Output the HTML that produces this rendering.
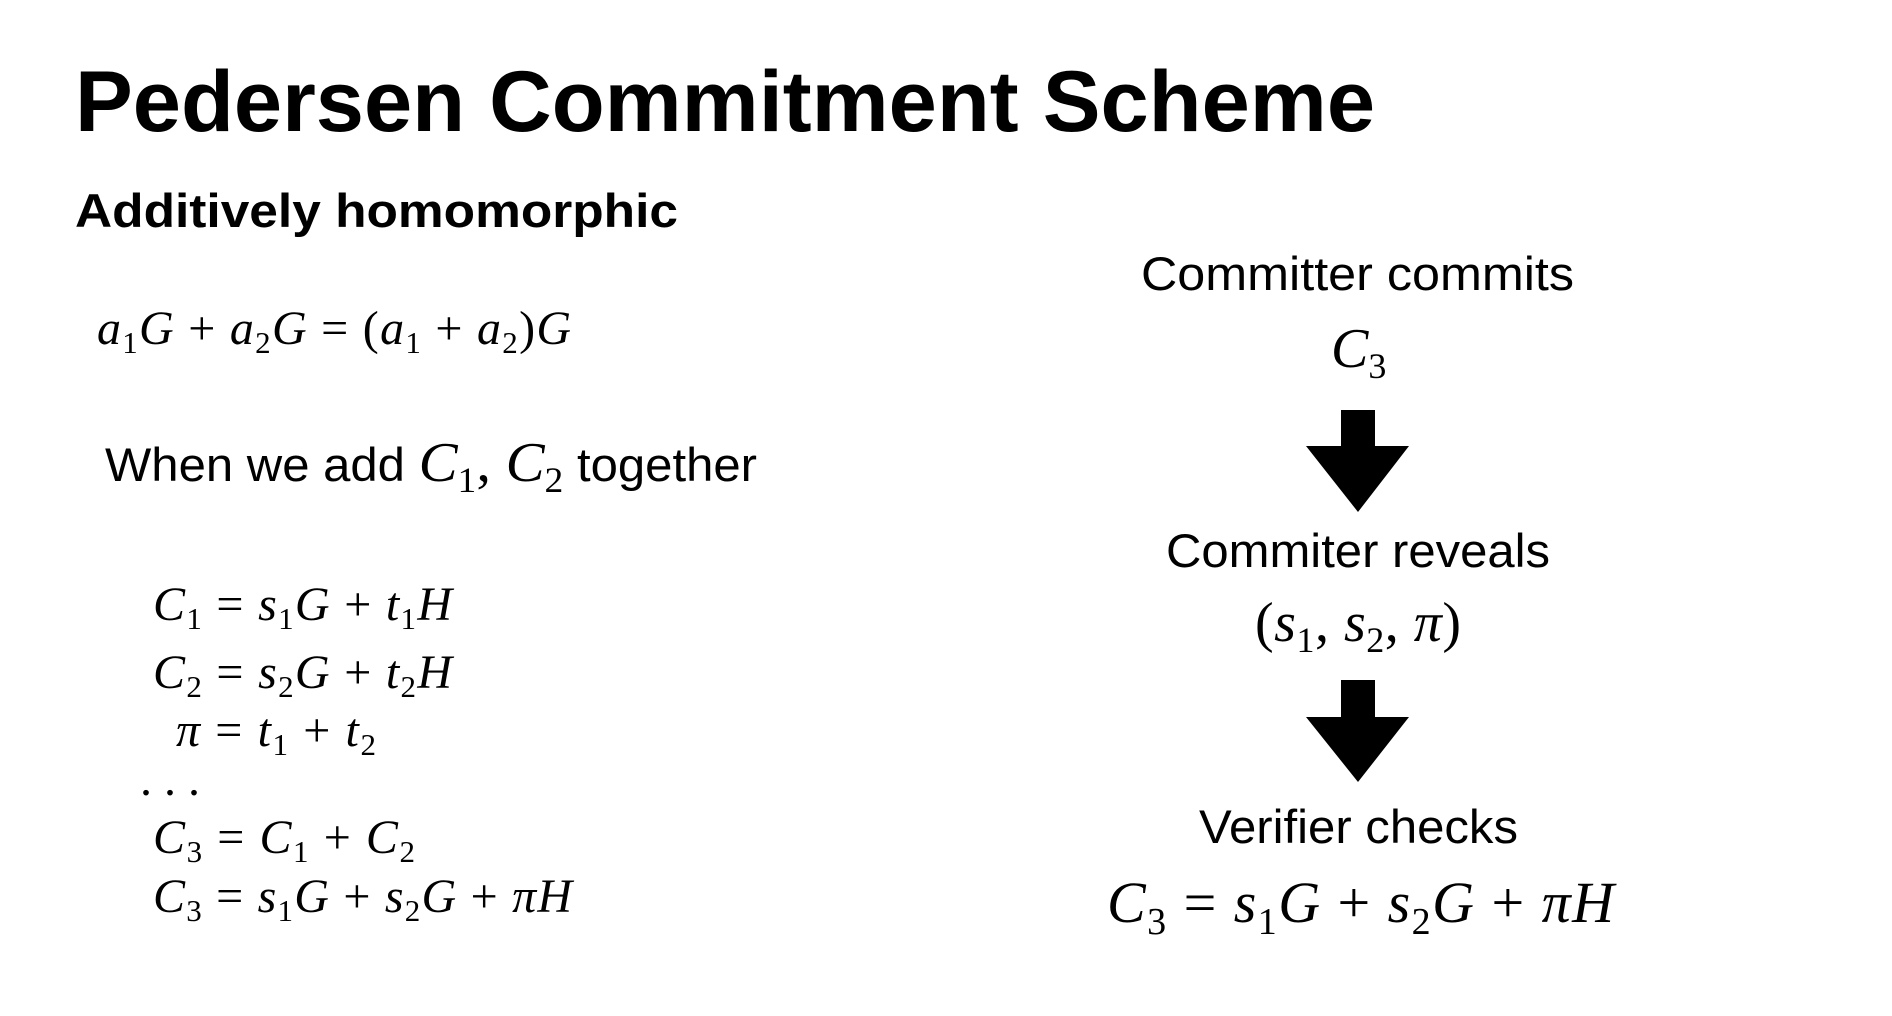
<!DOCTYPE html>
<html><head><meta charset="utf-8"><style>
html,body{margin:0;padding:0;background:#fff;}
svg{display:block}
.s{font-family:"Liberation Sans",sans-serif;fill:#000}
.m{font-family:"Liberation Serif",serif;font-style:italic;fill:#000}
.u{font-style:normal}
</style></head><body>
<svg width="1892" height="1016" viewBox="0 0 1892 1016" xmlns="http://www.w3.org/2000/svg">
<text x="75" y="131" class="s" font-size="86" font-weight="bold" textLength="1300" lengthAdjust="spacingAndGlyphs">Pedersen Commitment Scheme</text>
<text x="75" y="227" class="s" font-size="47" font-weight="bold" textLength="603" lengthAdjust="spacingAndGlyphs">Additively homomorphic</text>

<text x="97" y="344" class="m" font-size="48" textLength="474" lengthAdjust="spacing">a<tspan class="u" font-size="31" dy="9">1</tspan><tspan dy="-9">G</tspan><tspan class="u"> + </tspan>a<tspan class="u" font-size="31" dy="9">2</tspan><tspan dy="-9">G</tspan><tspan class="u"> = (</tspan>a<tspan class="u" font-size="31" dy="9">1</tspan><tspan class="u" dy="-9"> + </tspan>a<tspan class="u" font-size="31" dy="9">2</tspan><tspan class="u" dy="-9">)</tspan>G</text>

<text x="105" y="481" class="s" font-size="47" textLength="652" lengthAdjust="spacingAndGlyphs">When we add <tspan class="m" font-size="56">C</tspan><tspan font-family="Liberation Serif" font-size="36" dy="11">1</tspan><tspan font-family="Liberation Serif" font-size="56" dy="-11">, </tspan><tspan class="m" font-size="56">C</tspan><tspan font-family="Liberation Serif" font-size="36" dy="11">2</tspan><tspan dy="-11"> together</tspan></text>

<g class="m" font-size="48">
<text x="153" y="620" textLength="299" lengthAdjust="spacing">C<tspan class="u" font-size="31" dy="9">1</tspan><tspan class="u" dy="-9"> = </tspan>s<tspan class="u" font-size="31" dy="9">1</tspan><tspan dy="-9">G</tspan><tspan class="u"> + </tspan>t<tspan class="u" font-size="31" dy="9">1</tspan><tspan dy="-9">H</tspan></text>
<text x="153" y="688" textLength="299" lengthAdjust="spacing">C<tspan class="u" font-size="31" dy="9">2</tspan><tspan class="u" dy="-9"> = </tspan>s<tspan class="u" font-size="31" dy="9">2</tspan><tspan dy="-9">G</tspan><tspan class="u"> + </tspan>t<tspan class="u" font-size="31" dy="9">2</tspan><tspan dy="-9">H</tspan></text>
<text x="176" y="746" textLength="200" lengthAdjust="spacing">π<tspan class="u"> = </tspan>t<tspan class="u" font-size="31" dy="9">1</tspan><tspan class="u" dy="-9"> + </tspan>t<tspan class="u" font-size="31" dy="9">2</tspan></text>
<text x="140" y="795" class="u">. . .</text>
<text x="153" y="853" textLength="262" lengthAdjust="spacing">C<tspan class="u" font-size="31" dy="9">3</tspan><tspan class="u" dy="-9"> = </tspan>C<tspan class="u" font-size="31" dy="9">1</tspan><tspan class="u" dy="-9"> + </tspan>C<tspan class="u" font-size="31" dy="9">2</tspan></text>
<text x="153" y="912" textLength="419" lengthAdjust="spacing">C<tspan class="u" font-size="31" dy="9">3</tspan><tspan class="u" dy="-9"> = </tspan>s<tspan class="u" font-size="31" dy="9">1</tspan><tspan dy="-9">G</tspan><tspan class="u"> + </tspan>s<tspan class="u" font-size="31" dy="9">2</tspan><tspan dy="-9">G</tspan><tspan class="u"> + </tspan>πH</text>
</g>

<text x="1141" y="290" class="s" font-size="47" textLength="433" lengthAdjust="spacingAndGlyphs">Committer commits</text>
<text x="1331" y="367" class="m" font-size="56">C<tspan class="u" font-size="36" dy="11">3</tspan></text>
<polygon points="1341,410 1375,410 1375,446 1409,446 1358,512 1306,446 1341,446" fill="#000"/>
<text x="1166" y="567" class="s" font-size="47" textLength="384" lengthAdjust="spacingAndGlyphs">Commiter reveals</text>
<text x="1255" y="641" class="m" font-size="56" textLength="206" lengthAdjust="spacing"><tspan class="u">(</tspan>s<tspan class="u" font-size="36" dy="11">1</tspan><tspan class="u" dy="-11">, </tspan>s<tspan class="u" font-size="36" dy="11">2</tspan><tspan class="u" dy="-11">, </tspan>π<tspan class="u">)</tspan></text>
<polygon points="1341,680 1375,680 1375,717 1409,717 1358,782 1306,717 1341,717" fill="#000"/>
<text x="1199" y="843" class="s" font-size="47" textLength="319" lengthAdjust="spacingAndGlyphs">Verifier checks</text>
<text x="1107" y="922" class="m" font-size="58" textLength="507" lengthAdjust="spacing">C<tspan class="u" font-size="38" dy="12">3</tspan><tspan class="u" dy="-12"> = </tspan>s<tspan class="u" font-size="38" dy="12">1</tspan><tspan dy="-12">G</tspan><tspan class="u"> + </tspan>s<tspan class="u" font-size="38" dy="12">2</tspan><tspan dy="-12">G</tspan><tspan class="u"> + </tspan>πH</text>
</svg>
</body></html>
